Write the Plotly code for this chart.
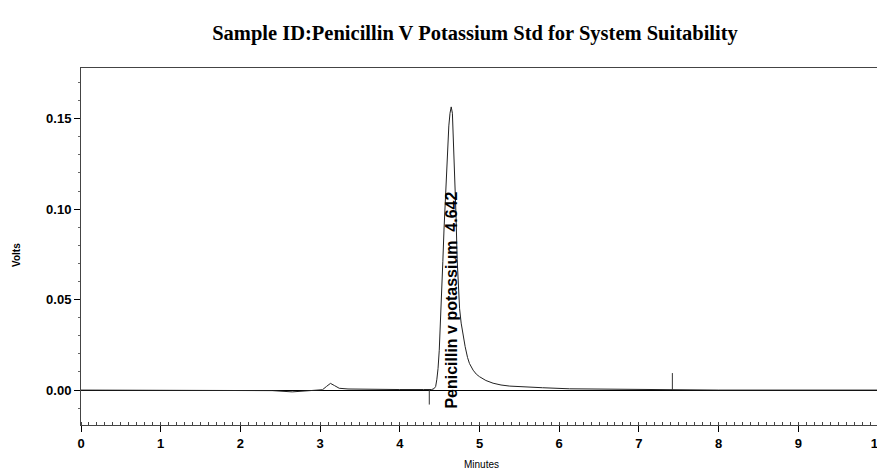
import plotly.graph_objects as go

# Chromatogram trace (minutes, volts)
minutes = [0.0, 1.0, 2.0, 2.4, 2.65, 2.9, 3.03, 3.08, 3.13, 3.18, 3.24, 3.35, 3.6, 4.0, 4.3,
           4.40, 4.43, 4.45, 4.465, 4.48, 4.495, 4.51, 4.525, 4.54, 4.555, 4.57, 4.585, 4.60,
           4.615, 4.63, 4.645, 4.66, 4.675, 4.69, 4.705, 4.72, 4.735, 4.75, 4.77, 4.79, 4.82,
           4.85, 4.874, 4.92, 4.96, 5.0, 5.08, 5.17, 5.27, 5.38, 5.55, 5.79, 6.13, 6.63, 7.0,
           7.5, 8.0, 10.0]
volts = [0.0, 0.0, 0.0, -0.0003, -0.001, -0.0003, 0.0002, 0.002, 0.0037, 0.0025, 0.001, 0.0006,
         0.0004, 0.0003, 0.0003,
         0.0003, 0.0008, 0.002, 0.006, 0.012, 0.022, 0.036, 0.053, 0.071, 0.089, 0.105, 0.121, 0.135,
         0.146, 0.153, 0.1565, 0.153, 0.137, 0.118, 0.097, 0.072, 0.056, 0.045, 0.037, 0.031, 0.024,
         0.018, 0.0147, 0.011, 0.0088, 0.0074, 0.0053, 0.0038, 0.0028, 0.0022, 0.0017, 0.0013, 0.0007,
         0.0004, 0.0002,
         0.0, 0.0, 0.0]

# Integration event markers
event_minutes = [4.37, 7.42]
event_low = [-0.008, 0.0]
event_high = [0.0, 0.0094]

# Peak label
peak_name = "Penicillin v potassium\u00a0\u00a04.642"
peak_label_x = 4.648
peak_label_y = 0.0497

x_ticks = [0, 1, 2, 3, 4, 5, 6, 7, 8, 9, 10]
y_ticks = [0.00, 0.05, 0.10, 0.15]

title_text = "Sample ID:Penicillin V Potassium Std for System Suitability"

# The page body has an 8px margin, so the figure is drawn at (8, 8).
FIG_W, FIG_H = 877, 461
ML, MR, MT, MB = 73, 7, 60, 44
PW = FIG_W - ML - MR
PH = FIG_H - MT - MB


def px_to_paper(px, py):
    # page pixel -> paper coords
    return (px - 8 - ML) / PW, (FIG_H - MB - (py - 8)) / PH


fig = go.Figure()

fig.add_trace(go.Scatter(x=minutes, y=volts, mode="lines",
                         line=dict(color="#222222", width=1), hoverinfo="skip"))

ex, ey = [], []
for t, lo, hi in zip(event_minutes, event_low, event_high):
    ex += [t, t, None]
    ey += [lo, hi, None]
fig.add_trace(go.Scatter(x=ex, y=ey, mode="lines",
                         line=dict(color="#333333", width=1), hoverinfo="skip"))

fig.add_annotation(x=peak_label_x, y=peak_label_y, xref="x", yref="y", text=peak_name,
                   textangle=-90, showarrow=False, xanchor="center", yanchor="middle",
                   font=dict(family="Liberation Sans, Arial", size=16, color="black", weight="bold"))

vx, vy = px_to_paper(16, 255)
fig.add_annotation(x=vx, y=vy, xref="paper", yref="paper", text="Volts", showarrow=False,
                   textangle=-90, xanchor="center", yanchor="middle",
                   font=dict(family="Liberation Sans, Arial", size=10, color="black", weight="bold"))

mx, my = px_to_paper(481, 464)
fig.add_annotation(x=mx, y=my, xref="paper", yref="paper", text="Minutes", showarrow=False,
                   xanchor="center", yanchor="middle",
                   font=dict(family="Liberation Sans, Arial", size=10, color="black"))

axis_font = dict(family="Liberation Sans, Arial", size=13, color="black", weight="bold")

fig.update_layout(
    width=FIG_W, height=FIG_H,
    margin=dict(l=ML, r=MR, t=MT, b=MB, autoexpand=False),
    paper_bgcolor="white", plot_bgcolor="white",
    showlegend=False,
    title=dict(text=title_text, x=px_to_paper(475, 0)[0], xref="paper", xanchor="center",
               y=1 - (33 - 8) / FIG_H, yref="container", yanchor="middle",
               font=dict(family="Liberation Serif, Times New Roman", size=20.5, color="black", weight="bold")),
    xaxis=dict(range=[0, 10], tickvals=x_ticks, ticktext=[str(v) for v in x_ticks],
               automargin=False, ticklabeloverflow="allow",
               showgrid=False, zeroline=False, showline=True, linecolor="#444444", linewidth=1,
               mirror=True, ticks="outside", ticklen=6, tickcolor="black", tickfont=axis_font,
               minor=dict(dtick=0.1, ticks="inside", ticklen=3, tickcolor="#444444", showgrid=False)),
    yaxis=dict(range=[-0.0193, 0.178], tickvals=y_ticks, ticktext=["%.2f" % v for v in y_ticks],
               automargin=False,
               showgrid=False, zeroline=True, zerolinecolor="black", zerolinewidth=1,
               showline=True, linecolor="#444444", linewidth=1, mirror=True,
               ticks="outside", ticklen=6, tickcolor="black", tickfont=axis_font,
               minor=dict(dtick=0.01, ticks="outside", ticklen=2, tickcolor="#666666", showgrid=False)),
)

fig.write_html("out.html")
